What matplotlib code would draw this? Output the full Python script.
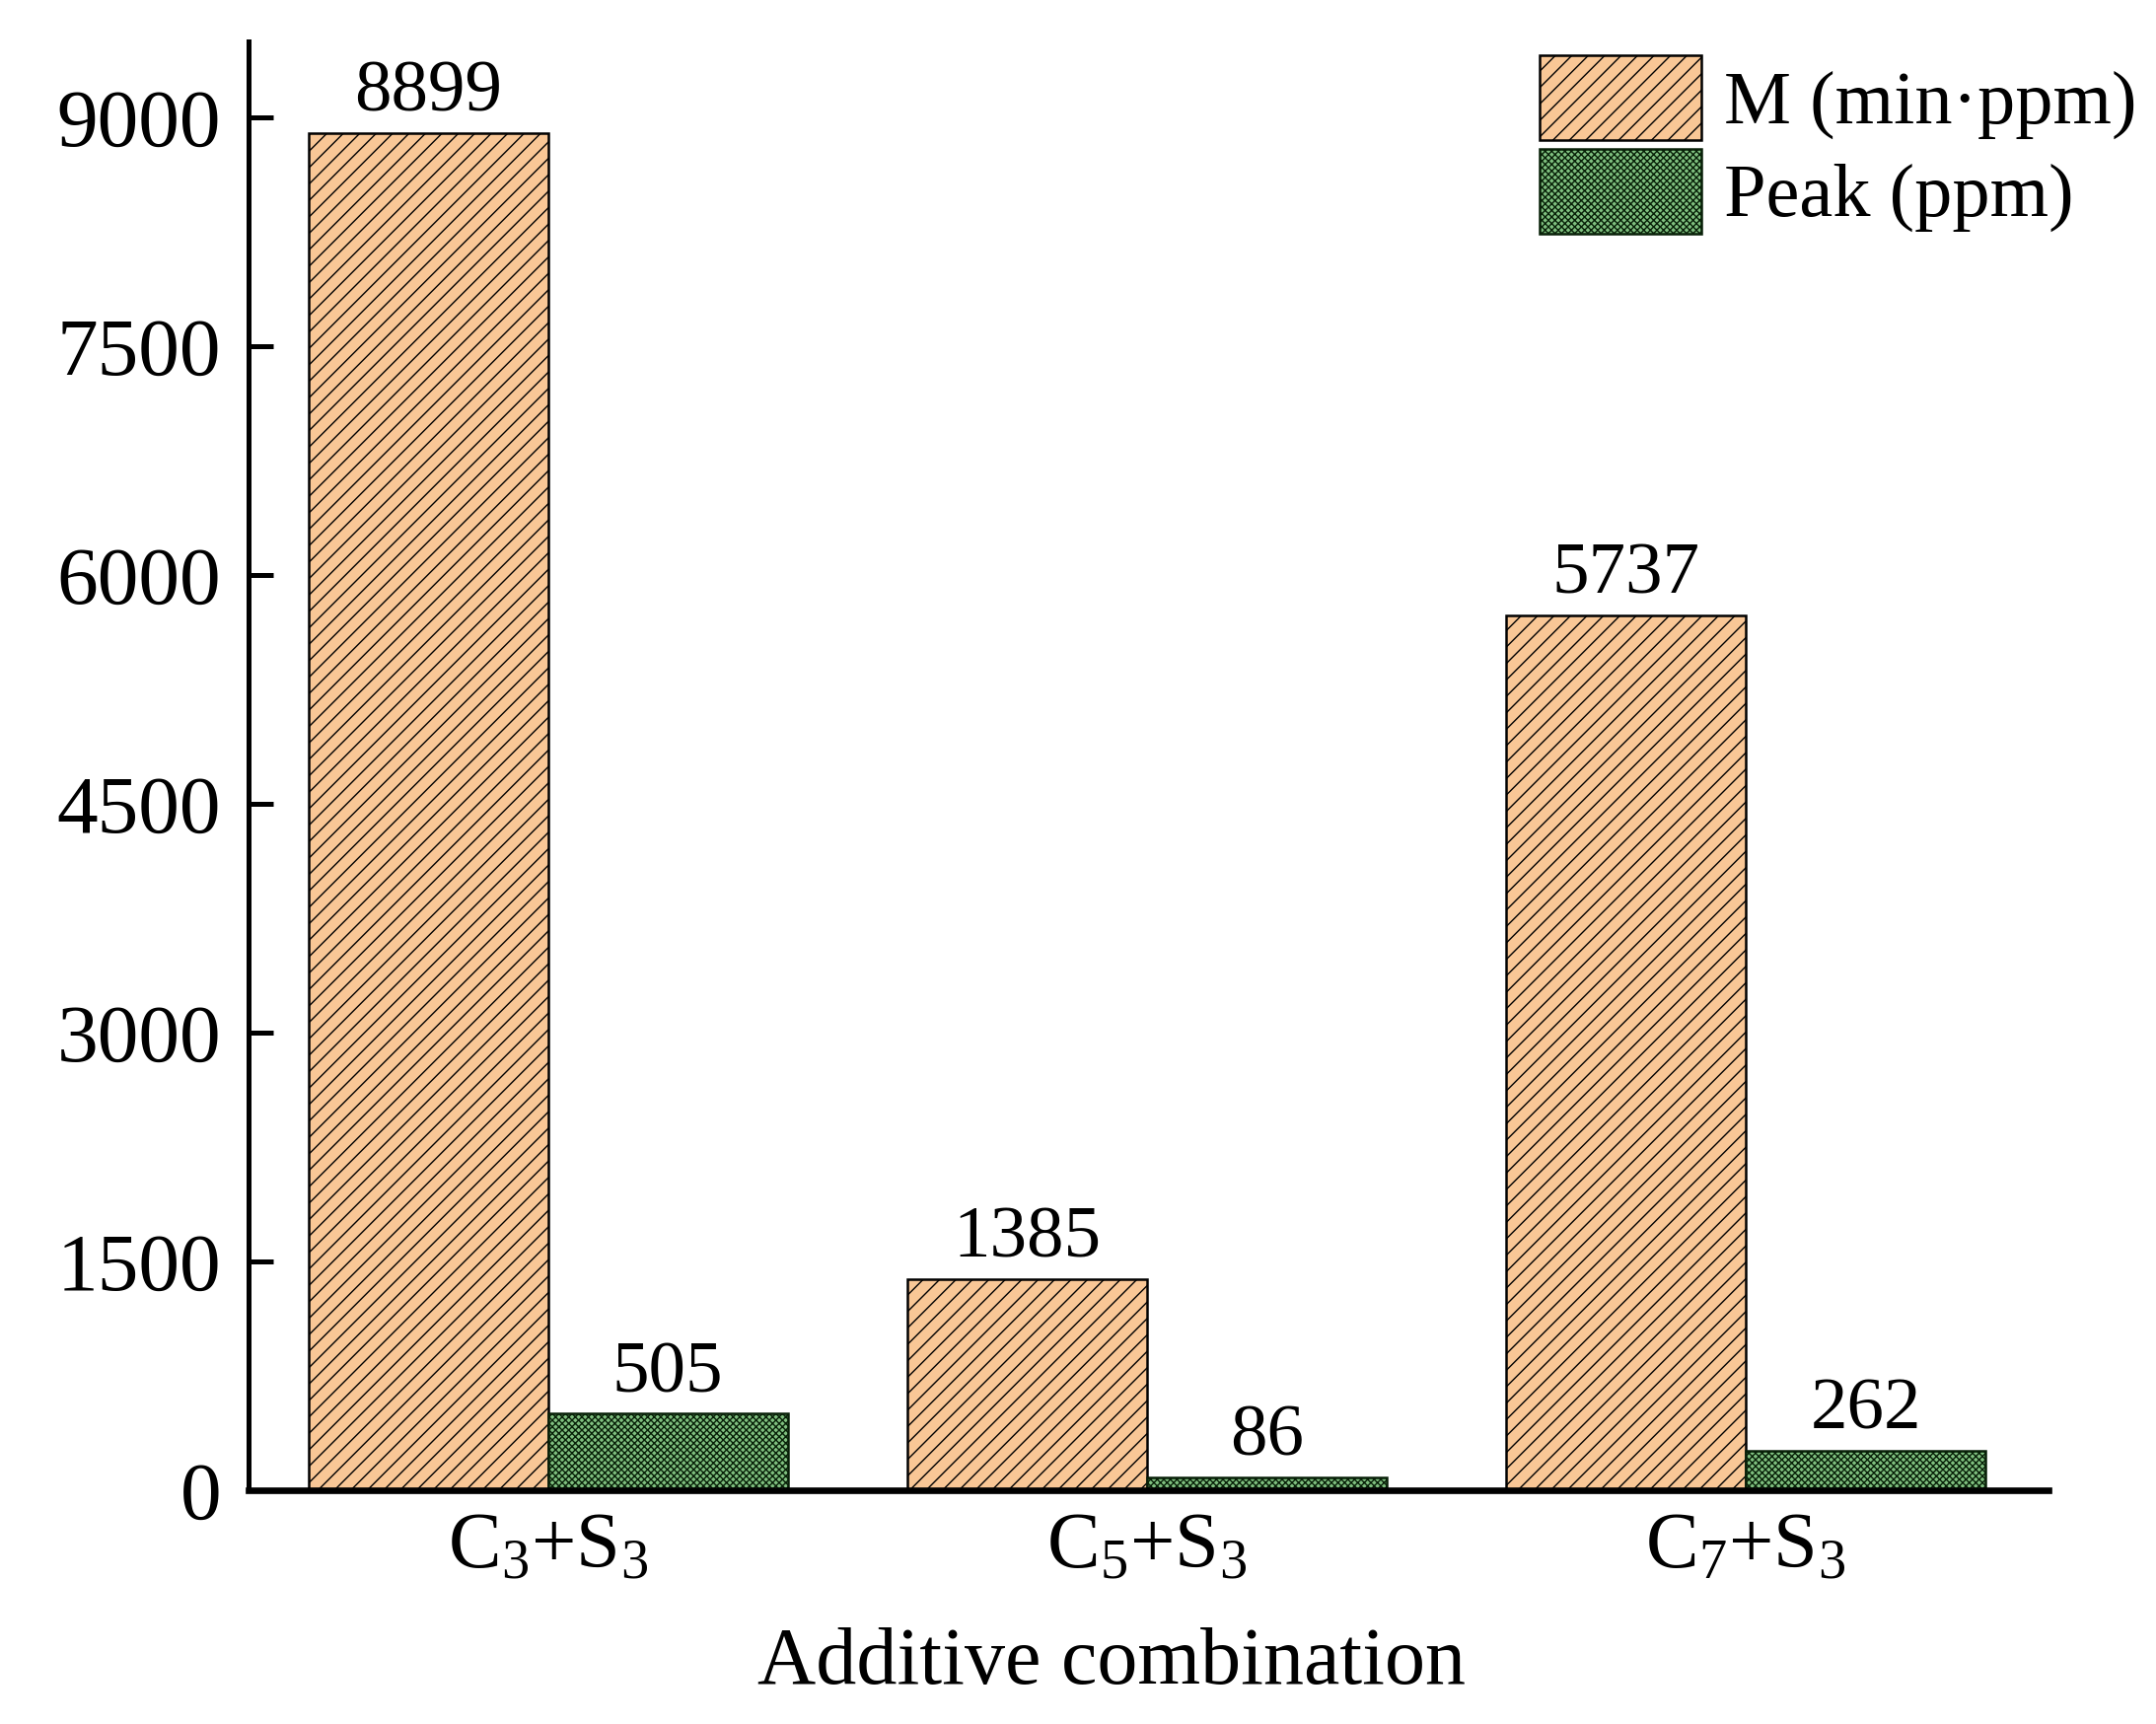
import matplotlib
matplotlib.use("Agg")
import matplotlib.pyplot as plt
import numpy as np

categories = [r"C$_3$+S$_3$", r"C$_5$+S$_3$", r"C$_7$+S$_3$"]
m_values = [8899, 1385, 5737]
peak_values = [505, 86, 262]
yticks = [0, 1500, 3000, 4500, 6000, 7500, 9000]
series_labels = ["M (min\u00b7ppm)", "Peak (ppm)"]

plt.rcParams['font.family'] = ['Liberation Serif', 'DejaVu Serif']
plt.rcParams['mathtext.fontset'] = 'custom'
plt.rcParams['mathtext.rm'] = 'Liberation Serif'
plt.rcParams['mathtext.it'] = 'Liberation Serif:italic'
plt.rcParams['mathtext.default'] = 'regular'
plt.rcParams['hatch.linewidth'] = 0.5

fs_tick = 30
fs_val = 27
fs_leg = 27.5
fig = plt.figure(figsize=(10.93, 8.74), dpi=200)
ax = fig.add_axes([0.1153, 0.1354, 0.950 - 0.1153, 0.976 - 0.1354])

x = np.arange(len(categories))
w = 0.4
b1 = ax.bar(x - w / 2, m_values, w, facecolor='#f9c796', edgecolor='black',
            hatch='////', linewidth=0.9, label=series_labels[0])
b2 = ax.bar(x + w / 2, peak_values, w, facecolor='#7fbf7f', edgecolor='#082008',
            hatch='xxxxxxxxxx', linewidth=0.9, label=series_labels[1])

for rect, v in zip(b1, m_values):
    ax.text(rect.get_x() + rect.get_width() / 2, v + 40, str(v),
            ha='center', va='bottom', fontsize=fs_val)
for rect, v in zip(b2, peak_values):
    ax.text(rect.get_x() + rect.get_width() / 2, v + 40, str(v),
            ha='center', va='bottom', fontsize=fs_val)

ax.set_xlim(-0.5, 2.505)
ax.set_ylim(0, 9500)
ax.set_yticks(yticks)
ax.set_yticklabels([str(t) for t in yticks], fontsize=fs_tick)
ax.set_xticks(x)
ax.set_xticklabels(categories, fontsize=29)
ax.tick_params(axis='y', direction='in', length=9, width=1.8, pad=10)
ax.tick_params(axis='x', length=0, pad=8)

ax.spines['top'].set_visible(False)
ax.spines['right'].set_visible(False)
ax.spines['left'].set_linewidth(1.8)
ax.spines['bottom'].set_linewidth(2.4)

ax.set_xlabel("Additive combination", fontsize=29.5)
ax.xaxis.set_label_coords((805 - 180) / 1303, -0.12)
ax.xaxis.label.set_va('center')

leg = fig.legend(handles=[b1, b2], labels=series_labels, loc='upper left',
                 bbox_to_anchor=(0.714, 0.968), frameon=False, fontsize=fs_leg,
                 handlelength=2.15, handleheight=1.35, handletextpad=0.3,
                 labelspacing=0.12, borderpad=0, borderaxespad=0)

fig.savefig("out.png", dpi=200)
